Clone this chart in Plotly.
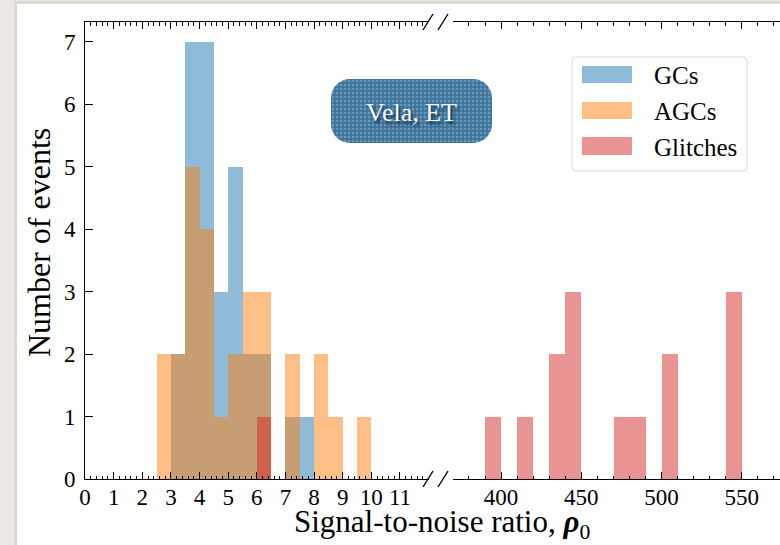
import base64
import plotly.graph_objects as go

# ---- histogram data: bin left edges and counts ----
low_bin_width = 0.5
gc_bins = [3.0, 3.5, 4.0, 4.5, 5.0, 5.5, 6.0, 7.0, 7.5]
gc_counts = [2, 7, 7, 3, 5, 2, 2, 1, 1]
agc_bins = [2.5, 3.0, 3.5, 4.0, 4.5, 5.0, 5.5, 6.0, 7.0, 8.0, 8.5, 9.5]
agc_counts = [2, 2, 5, 4, 1, 2, 3, 3, 2, 2, 1, 1]
glitch_low_bins = [6.0]
glitch_low_counts = [1]

high_bin_width = 10
glitch_high_bins = [390, 410, 430, 440, 470, 480, 500, 540]
glitch_high_counts = [1, 1, 2, 3, 1, 1, 2, 3]

series_names = ["GCs", "AGCs", "Glitches"]
series_colors = ["rgba(31,119,180,0.5)", "rgba(255,127,14,0.5)", "rgba(214,39,40,0.5)"]

low_ticks = list(range(0, 12))
high_ticks = [400, 450, 500, 550]
y_ticks = list(range(0, 8))

# ---- geometry of the canvas (pixels) ----
W, H = 780, 545
L, R, T, B = 85, 780, 22, 479
FONT = "Liberation Serif, Times New Roman, serif"


def fx(xp):
    return (xp - L) / (R - L)


def fy(yp):
    return (B - yp) / (B - T)


def bar_trace(starts, counts, width, color, name, xaxis):
    return go.Bar(
        x=[s + width / 2 for s in starts],
        y=counts,
        width=[width] * len(starts),
        marker=dict(color=color, line=dict(width=0)),
        name=name,
        xaxis=xaxis,
        yaxis="y",
        showlegend=False,
        hoverinfo="x+y+name",
    )


fig = go.Figure()
fig.add_trace(bar_trace(gc_bins, gc_counts, low_bin_width, series_colors[0], "GCs", "x"))
fig.add_trace(bar_trace(agc_bins, agc_counts, low_bin_width, series_colors[1], "AGCs", "x"))
fig.add_trace(bar_trace(glitch_low_bins, glitch_low_counts, low_bin_width, series_colors[2], "Glitches", "x"))
fig.add_trace(bar_trace(glitch_high_bins, glitch_high_counts, high_bin_width, series_colors[2], "Glitches", "x2"))

axis_common = dict(
    showline=True, linecolor="black", linewidth=1,
    ticks="inside", ticklen=7, tickwidth=1, tickcolor="black",
    mirror="ticks", showgrid=False, zeroline=False,
    tickfont=dict(family=FONT, size=23, color="black"),
    ticklabelstandoff=-3,
)

fig.update_layout(
    width=W, height=H,
    margin=dict(l=L, r=W - R, t=T, b=H - B),
    paper_bgcolor="#ebe8e3",
    plot_bgcolor="rgba(0,0,0,0)",
    barmode="overlay",
    bargap=0,
    showlegend=False,
    xaxis=dict(
        domain=[0, fx(428.6)], range=[0, 11.999], anchor="y",
        tickmode="array", tickvals=low_ticks,
        minor=dict(dtick=0.2, tick0=0, ticks="inside", ticklen=3.5, tickcolor="black", tickwidth=1),
        **axis_common,
    ),
    xaxis2=dict(
        domain=[fx(452.9), 1], range=[370, 573.8], anchor="y",
        tickmode="array", tickvals=high_ticks,
        minor=dict(dtick=10, tick0=0, ticks="inside", ticklen=3.5, tickcolor="black", tickwidth=1),
        **axis_common,
    ),
    yaxis=dict(
        range=[0, 7.32], domain=[0, 1], anchor="x",
        tickmode="array", tickvals=y_ticks,
        showline=True, linecolor="black", linewidth=1,
        ticks="inside", ticklen=8, tickwidth=1, tickcolor="black",
        mirror=False, showgrid=False, zeroline=False,
        tickfont=dict(family=FONT, size=23, color="black"),
        ticklabelstandoff=4,
    ),
)

shapes = []
# card shadow and white card
shapes.append(dict(type="rect", xref="paper", yref="paper", layer="below",
                   x0=fx(14), x1=fx(W + 5), y0=fy(1), y1=fy(H + 5),
                   fillcolor="#dcd8d2", line=dict(width=0)))
shapes.append(dict(type="rect", xref="paper", yref="paper", layer="below",
                   x0=fx(17), x1=fx(W + 5), y0=fy(4), y1=fy(H + 5),
                   fillcolor="white", line=dict(width=0)))

# axis break marks
for yc in (22, 479):
    for xc in (428, 443):
        shapes.append(dict(type="line", xref="paper", yref="paper",
                           x0=fx(xc - 5), x1=fx(xc + 5), y0=fy(yc + 8), y1=fy(yc - 8),
                           line=dict(color="black", width=1.4)))


def rounded_rect(x0, y0, x1, y1, r):
    # path in paper coordinates from pixel corners
    return (f"M {fx(x0 + r)},{fy(y0)} L {fx(x1 - r)},{fy(y0)} "
            f"Q {fx(x1)},{fy(y0)} {fx(x1)},{fy(y0 + r)} L {fx(x1)},{fy(y1 - r)} "
            f"Q {fx(x1)},{fy(y1)} {fx(x1 - r)},{fy(y1)} L {fx(x0 + r)},{fy(y1)} "
            f"Q {fx(x0)},{fy(y1)} {fx(x0)},{fy(y1 - r)} L {fx(x0)},{fy(y0 + r)} "
            f"Q {fx(x0)},{fy(y0)} {fx(x0 + r)},{fy(y0)} Z")


# legend box
shapes.append(dict(type="path", xref="paper", yref="paper",
                   path=rounded_rect(572, 57, 747, 171, 4),
                   fillcolor="rgba(255,255,255,0.9)", line=dict(color="#d8d8d8", width=1)))
legend_rows = [(66, 83), (102, 119), (137, 155)]
annotations = []
for (y0, y1), name, color in zip(legend_rows, series_names, series_colors):
    shapes.append(dict(type="rect", xref="paper", yref="paper",
                       x0=fx(582), x1=fx(632), y0=fy(y0), y1=fy(y1),
                       fillcolor=color, line=dict(width=0)))
    annotations.append(dict(xref="paper", yref="paper", x=fx(652), y=fy((y0 + y1) / 2 + 1),
                            xanchor="left", yanchor="middle", showarrow=False, text=name,
                            font=dict(family=FONT, size=25, color="black")))

fig.update_layout(shapes=shapes)

# textured label box
svg = (
    '<svg xmlns="http://www.w3.org/2000/svg" width="161" height="64" viewBox="0 0 161 64">'
    '<defs><pattern id="p" width="4" height="4" patternUnits="userSpaceOnUse">'
    '<rect width="4" height="4" fill="#3a6b92"/>'
    '<rect x="0.7" y="0.7" width="2.6" height="2.6" fill="#6a9fc4"/>'
    '<rect x="1.6" y="1.6" width="0.8" height="0.8" fill="#4c80a8"/>'
    '</pattern></defs>'
    '<rect width="161" height="64" rx="19" ry="19" fill="url(#p)"/>'
    '</svg>'
)
fig.add_layout_image(dict(
    source="data:image/svg+xml;base64," + base64.b64encode(svg.encode()).decode(),
    xref="paper", yref="paper", x=fx(331), y=fy(79),
    sizex=fx(492) - fx(331), sizey=fy(79) - fy(143),
    xanchor="left", yanchor="top", sizing="stretch", layer="above",
))
annotations.append(dict(xref="paper", yref="paper", x=fx(411), y=fy(112),
                        xanchor="center", yanchor="middle", showarrow=False, text="Vela, ET",
                        font=dict(family=FONT, size=26, color="#f5f7f9",
                                  shadow="2px 3px 3px rgba(10,35,60,0.95)")))

# axis titles
annotations.append(dict(xref="paper", yref="paper", x=fx(442), y=fy(524),
                        xanchor="center", yanchor="middle", showarrow=False,
                        text="Signal-to-noise ratio, <b><i>ρ</i></b><sub>0</sub>",
                        font=dict(family=FONT, size=31, color="black")))
annotations.append(dict(xref="paper", yref="paper", x=fx(39), y=fy(243),
                        xanchor="center", yanchor="middle", showarrow=False, textangle=-90,
                        text="Number of events",
                        font=dict(family=FONT, size=32, color="black")))
fig.update_layout(annotations=annotations)

fig.write_html("out.html")
